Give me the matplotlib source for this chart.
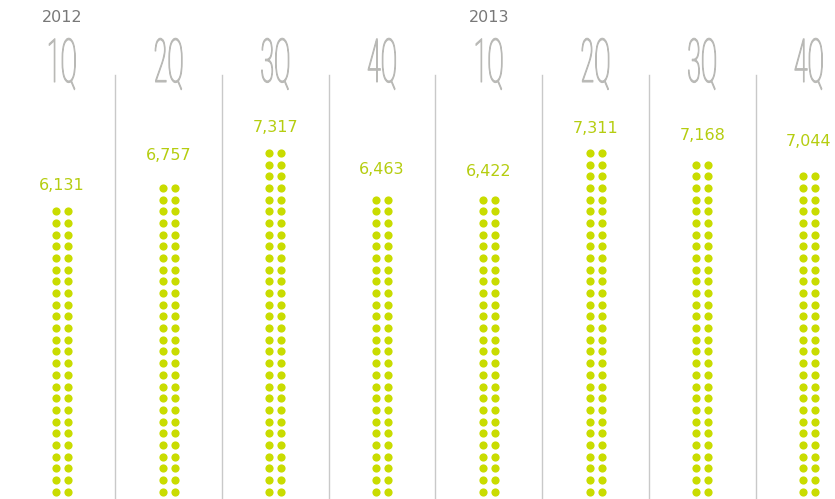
import numpy as np
import matplotlib
matplotlib.use('Agg')
import matplotlib.pyplot as plt
from matplotlib.patheffects import AbstractPathEffect
from matplotlib.transforms import Affine2D

# quarterly values, one stack of dots per quarter
quarters = ['1Q', '2Q', '3Q', '4Q', '1Q', '2Q', '3Q', '4Q']
values = [6131, 6757, 7317, 6463, 6422, 7311, 7168, 7044]
years = ['2012', '2013']
year_pos = [0, 4]          # index of the first quarter of each year
unit = 239                 # value per row of two dots

dot_col = '#c9dc00'
lab_col = '#b5cd10'
year_col = '#787878'
q_col = '#b9b9b6'
sep_col = '#c9c9c9'


# tall, narrow lettering for the quarter headers
class Stretch(AbstractPathEffect):
    def __init__(self, sx=1.0, sy=1.0, lw=0.0):
        super().__init__()
        self.sx, self.sy, self.lw = sx, sy, lw

    def draw_path(self, renderer, gc, tpath, affine, rgbFace=None):
        ext = tpath.get_extents()
        cx = (ext.x0 + ext.x1) / 2
        t = Affine2D().translate(-cx, 0).scale(self.sx, self.sy).translate(cx, 0)
        gc0 = renderer.new_gc()
        gc0.copy_properties(gc)
        gc0.set_foreground(rgbFace)
        gc0.set_linewidth(self.lw)
        renderer.draw_path(gc0, tpath, t + affine, rgbFace)
        gc0.restore()


fig = plt.figure(figsize=(8.35, 4.99), dpi=100)
ax = fig.add_axes([0, 0, 1, 1])
ax.axis('off')

px_col = 106.7             # pixels between column centres
px_row = 11.67             # pixels between dot rows
y0 = 0.36 * unit           # hide the bottom row under the edge
ax.set_xlim(-62 / px_col, (835 - 62) / px_col)
ax.set_ylim(y0, y0 + 499 / px_row * unit)

dx = 6 / px_col
for i, v in enumerate(values):
    n = int(round(v / unit))
    ys = np.arange(n) * unit
    for off in (-dx, dx):
        ax.plot(np.full(n, i + off), ys, 'o', ms=5.9, color=dot_col, mec='none')
    ax.annotate(f'{v:,}', (i, v), xytext=(0, 18), textcoords='offset pixels',
                ha='center', va='center', fontsize=11.5, color=lab_col)

# separators between the quarters
for i in range(len(values) - 1):
    ax.axvline(i + 0.5, ymin=0, ymax=1 - 75 / 499, color=sep_col, lw=1)

tr = ax.get_xaxis_transform()
for y, p in zip(years, year_pos):
    ax.text(p, 1 - 17 / 499, y, transform=tr, ha='center', va='center',
            fontsize=11.5, color=year_col)

for i, q in enumerate(quarters):
    ax.text(i, 1 - 82 / 499, q, transform=tr, ha='center', va='baseline',
            fontsize=16.5, family=['Roboto', 'DejaVu Sans'], fontweight=100,
            color=q_col, path_effects=[Stretch(1.08, 2.65, 0.75)])

fig.savefig('out.png', dpi=100)
